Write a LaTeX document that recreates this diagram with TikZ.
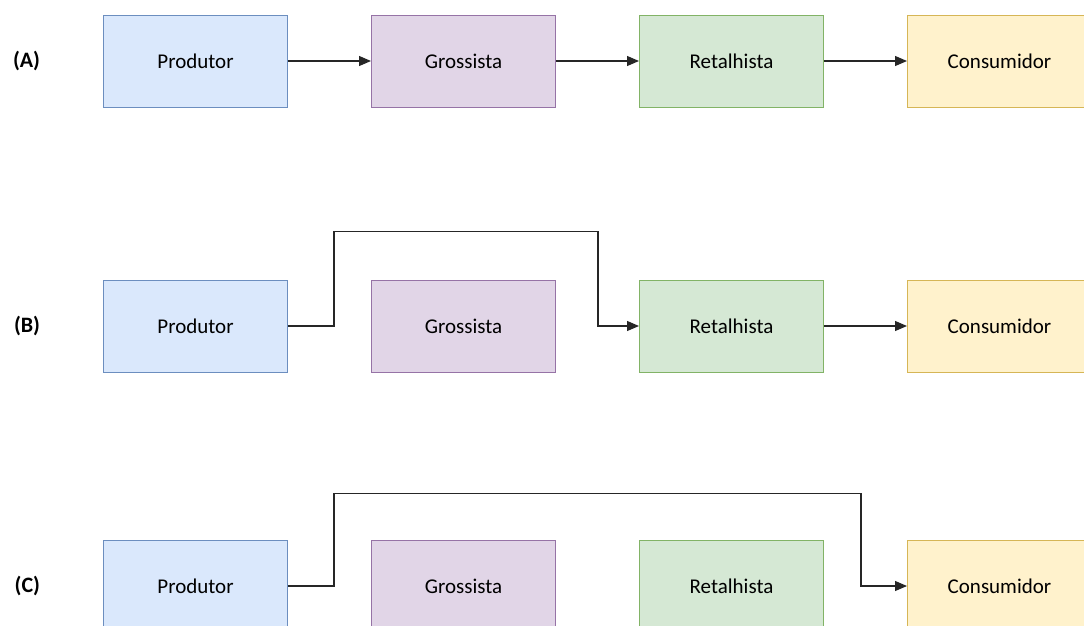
\documentclass[tikz,border=0pt]{standalone}
\usepackage{fontspec}
\setmainfont{Carlito}
\usetikzlibrary{arrows.meta, positioning}

\definecolor{prodfill}{HTML}{DAE8FC}
\definecolor{prodline}{HTML}{6C8EBF}
\definecolor{grosfill}{HTML}{E1D5E7}
\definecolor{grosline}{HTML}{9673A6}
\definecolor{retafill}{HTML}{D5E8D4}
\definecolor{retaline}{HTML}{82B366}
\definecolor{consfill}{HTML}{FFF2CC}
\definecolor{consline}{HTML}{D6B656}

\begin{document}
\begin{tikzpicture}[x=0.75pt, y=-0.75pt, node distance=62.25pt,
          chainbox/.style={rectangle, line width=0.75pt, minimum width=138pt, minimum height=69pt, inner sep=0pt, font=\fontsize{15.75}{19}\selectfont},
          prodbox/.style={chainbox, draw=prodline, fill=prodfill},
          grosbox/.style={chainbox, draw=grosline, fill=grosfill},
          retabox/.style={chainbox, draw=retaline, fill=retafill},
          consbox/.style={chainbox, draw=consline, fill=consfill},
          rowlabel/.style={inner sep=0pt, font=\fontsize{16.5}{19}\selectfont\bfseries},
          arrow/.style={-{Triangle[length=9pt, width=7.5pt]}, line width=0.9pt, color=black!85}]

        \useasboundingbox (0,0) rectangle (1084,625);
        \clip (0,0) rectangle (1084,625);

        % (A) cadeia longa
        \node [prodbox] (pA) at (195.5,61) {Produtor};
        \node [grosbox, right=of pA] (gA) {Grossista};
        \node [retabox, right=of gA] (rA) {Retalhista};
        \node [consbox, right=of rA] (cA) {Consumidor};
        \node [rowlabel, left=47pt of pA] (lA) {(A)};

        % (B) cadeia curta
        \node [prodbox, below=129pt of pA] (pB) {Produtor};
        \node [grosbox, right=of pB] (gB) {Grossista};
        \node [retabox, right=of gB] (rB) {Retalhista};
        \node [consbox, right=of rB] (cB) {Consumidor};
        \node [rowlabel, left=47pt of pB] (lB) {(B)};

        % (C) venda directa
        \node [prodbox, below=125.25pt of pB] (pC) {Produtor};
        \node [grosbox, right=of pC] (gC) {Grossista};
        \node [retabox, right=of gC] (rC) {Retalhista};
        \node [consbox, right=of rC] (cC) {Consumidor};
        \node [rowlabel, left=47pt of pC] (lC) {(C)};

        \draw [arrow] (pA) -- (gA);
        \draw [arrow] (gA) -- (rA);
        \draw [arrow] (rA) -- (cA);

        \draw [arrow] (pB.east) -- ++(46,0) |- ([xshift=-30.75pt, yshift=36pt]gB.north -| rB.west) |- (rB.west);
        \draw [arrow] (rB) -- (cB);

        \draw [arrow] (pC.east) -- ++(46,0) |- ([xshift=-34.5pt, yshift=34.5pt]gC.north -| cC.west) |- (cC.west);
      \end{tikzpicture}
\end{document}
